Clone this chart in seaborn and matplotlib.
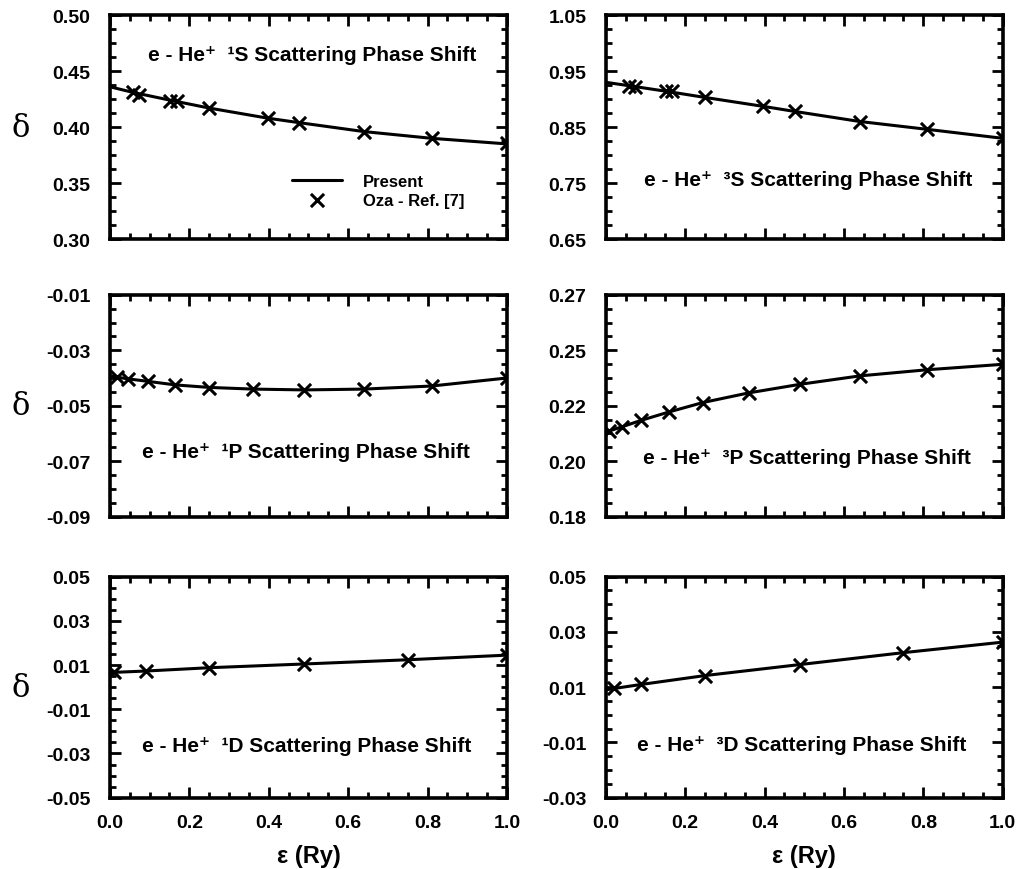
import numpy as np
import pandas as pd
import matplotlib
matplotlib.use("Agg")
import matplotlib.pyplot as plt
import seaborn as sns
from matplotlib.ticker import MultipleLocator, FixedLocator, FixedFormatter

# ---- data ----
# 1S
x_1s = [0.058, 0.073, 0.152, 0.168, 0.25, 0.397, 0.476, 0.64, 0.81, 1.0]
y_1s = [0.431, 0.429, 0.423, 0.423, 0.417, 0.408, 0.404, 0.396, 0.390, 0.386]
cx_1s = [0.0, 0.058, 0.152, 0.25, 0.397, 0.476, 0.64, 0.81, 1.0]
cy_1s = [0.436, 0.431, 0.424, 0.417, 0.408, 0.404, 0.396, 0.390, 0.385]
# 3S
x_3s = [0.058, 0.073, 0.152, 0.168, 0.25, 0.397, 0.476, 0.64, 0.81, 1.0]
y_3s = [0.924, 0.922, 0.914, 0.914, 0.903, 0.887, 0.878, 0.860, 0.846, 0.831]
cx_3s = [0.0, 0.058, 0.152, 0.25, 0.397, 0.476, 0.64, 0.81, 1.0]
cy_3s = [0.930, 0.924, 0.914, 0.903, 0.887, 0.878, 0.860, 0.846, 0.830]
# 1P
x_1p = [0.017, 0.045, 0.095, 0.165, 0.25, 0.36, 0.49, 0.64, 0.81, 1.0]
y_1p = [-0.0397, -0.0403, -0.0412, -0.0427, -0.0435, -0.0441, -0.0445, -0.0441, -0.0429, -0.0400]
cx_1p = [0.0, 0.017, 0.045, 0.095, 0.165, 0.25, 0.36, 0.49, 0.64, 0.81, 1.0]
cy_1p = [-0.0392, -0.0397, -0.0403, -0.0412, -0.0425, -0.0434, -0.0440, -0.0443, -0.0440, -0.0429, -0.0400]
# 3P
x_3p = [0.008, 0.04, 0.09, 0.16, 0.245, 0.36, 0.49, 0.64, 0.81, 1.0]
y_3p = [0.2147, 0.2164, 0.2191, 0.2225, 0.2263, 0.2302, 0.2337, 0.2371, 0.2396, 0.2418]
cx_3p = [0.0, 0.008, 0.04, 0.09, 0.16, 0.245, 0.36, 0.49, 0.64, 0.81, 1.0]
cy_3p = [0.2140, 0.2147, 0.2164, 0.2191, 0.2225, 0.2263, 0.2302, 0.2337, 0.2371, 0.2396, 0.2418]
# 1D
x_1d = [0.01, 0.09, 0.25, 0.49, 0.75, 1.0]
y_1d = [0.0067, 0.0073, 0.0088, 0.0103, 0.0123, 0.0145]
cx_1d = [0.0, 0.01, 0.09, 0.25, 0.49, 0.75, 1.0]
cy_1d = [0.0066, 0.0067, 0.0073, 0.0088, 0.0105, 0.0124, 0.0145]
# 3D
x_3d = [0.02, 0.09, 0.25, 0.49, 0.75, 1.0]
y_3d = [0.0096, 0.0110, 0.0142, 0.0180, 0.0225, 0.0262]
cx_3d = [0.0, 0.02, 0.09, 0.25, 0.49, 0.75, 1.0]
cy_3d = [0.0090, 0.0095, 0.0110, 0.0142, 0.0182, 0.0225, 0.0263]

titles = ["e - He\u207a  \u00b9S Scattering Phase Shift",
          "e - He\u207a  \u00b3S Scattering Phase Shift",
          "e - He\u207a  \u00b9P Scattering Phase Shift",
          "e - He\u207a  \u00b3P Scattering Phase Shift",
          "e - He\u207a  \u00b9D Scattering Phase Shift",
          "e - He\u207a  \u00b3D Scattering Phase Shift"]

y_limits = [(0.30, 0.50), (0.65, 1.05), (-0.09, -0.01), (0.18, 0.27), (-0.05, 0.05), (-0.03, 0.05)]
y_ticklabels = [["0.30", "0.35", "0.40", "0.45", "0.50"],
                ["0.65", "0.75", "0.85", "0.95", "1.05"],
                ["-0.09", "-0.07", "-0.05", "-0.03", "-0.01"],
                ["0.18", "0.20", "0.22", "0.25", "0.27"],
                ["-0.05", "-0.03", "-0.01", "0.01", "0.03", "0.05"],
                ["-0.03", "-0.01", "0.01", "0.03", "0.05"]]

# ---- style ----
sns.set_style("ticks")
plt.rcParams['font.family'] = ['Liberation Sans', 'DejaVu Sans']
plt.rcParams['font.weight'] = 'bold'
plt.rcParams['axes.unicode_minus'] = False
plt.rcParams['text.color'] = 'black'
plt.rcParams['axes.labelcolor'] = 'black'
plt.rcParams['xtick.color'] = 'black'
plt.rcParams['ytick.color'] = 'black'
plt.rcParams['axes.edgecolor'] = 'black'

fig = plt.figure(figsize=(10.18, 8.70), dpi=100)

lefts = [0.108, 0.595]
bottoms = [0.724, 0.405, 0.082]
heights = [0.2575, 0.255, 0.254]
width = 0.390

points = [(x_1s, y_1s), (x_3s, y_3s), (x_1p, y_1p), (x_3p, y_3p), (x_1d, y_1d), (x_3d, y_3d)]
curves = [(cx_1s, cy_1s), (cx_3s, cy_3s), (cx_1p, cy_1p), (cx_3p, cy_3p), (cx_1d, cy_1d), (cx_3d, cy_3d)]
text_pos = [(0.51, 0.826), (0.51, 0.265), (0.494, 0.295), (0.508, 0.265), (0.495, 0.235), (0.494, 0.241)]

for i in range(6):
    row, col = divmod(i, 2)
    ax = fig.add_axes([lefts[col], bottoms[row], width, heights[row]])
    cx, cy = curves[i]
    px, py = points[i]
    sns.lineplot(x=cx, y=cy, ax=ax, color='black', linewidth=2.2, label='Present')
    sns.scatterplot(x=px, y=py, ax=ax, marker='x', color='black', s=90,
                    linewidth=2.2, label='Oza - Ref. [7]', zorder=3)

    lo, hi = y_limits[i]
    labels = y_ticklabels[i]
    n = len(labels)
    ax.set_xlim(0, 1)
    ax.set_ylim(lo, hi)
    ax.xaxis.set_major_locator(FixedLocator(np.linspace(0, 1, 6)))
    ax.xaxis.set_major_formatter(FixedFormatter(["0.0", "0.2", "0.4", "0.6", "0.8", "1.0"]))
    ax.xaxis.set_minor_locator(MultipleLocator(0.05))
    ax.yaxis.set_major_locator(FixedLocator(np.linspace(lo, hi, n)))
    ax.yaxis.set_major_formatter(FixedFormatter(labels))
    ax.yaxis.set_minor_locator(FixedLocator(np.linspace(lo, hi, (n - 1) * 4 + 1)))

    ax.tick_params(which='both', direction='in', top=True, right=True, width=2.0)
    ax.tick_params(which='major', length=8, labelsize=14, pad=14)
    ax.tick_params(which='minor', length=4.5)
    for lab in ax.get_xticklabels() + ax.get_yticklabels():
        lab.set_fontweight('bold')
    for sp in ax.spines.values():
        sp.set_linewidth(2.6)

    if row < 2:
        ax.tick_params(labelbottom=False)
        ax.set_xlabel('')
    else:
        ax.tick_params(axis='x', which='major', pad=12)
        ax.set_xlabel('\u03b5 (Ry)', fontsize=17, fontweight='bold', labelpad=9)

    if col == 0:
        ax.set_ylabel('\u03b4', fontsize=22, rotation=0, family='DejaVu Serif',
                      fontweight='normal', va='center')
        ax.yaxis.set_label_coords(-0.225, 0.5)
    else:
        ax.set_ylabel('')

    tx, ty = text_pos[i]
    ax.text(tx, ty, titles[i], transform=ax.transAxes, ha='center', va='center',
            fontsize=15, fontweight='bold')

    if i == 0:
        leg = ax.legend(loc='lower right', bbox_to_anchor=(0.91, 0.11), frameon=False,
                        fontsize=12, handlelength=3.0, handletextpad=1.3,
                        labelspacing=0.25, borderaxespad=0)
        for t in leg.get_texts():
            t.set_fontweight('bold')
    else:
        if ax.get_legend() is not None:
            ax.get_legend().remove()

fig.savefig('out.png', dpi=100)
